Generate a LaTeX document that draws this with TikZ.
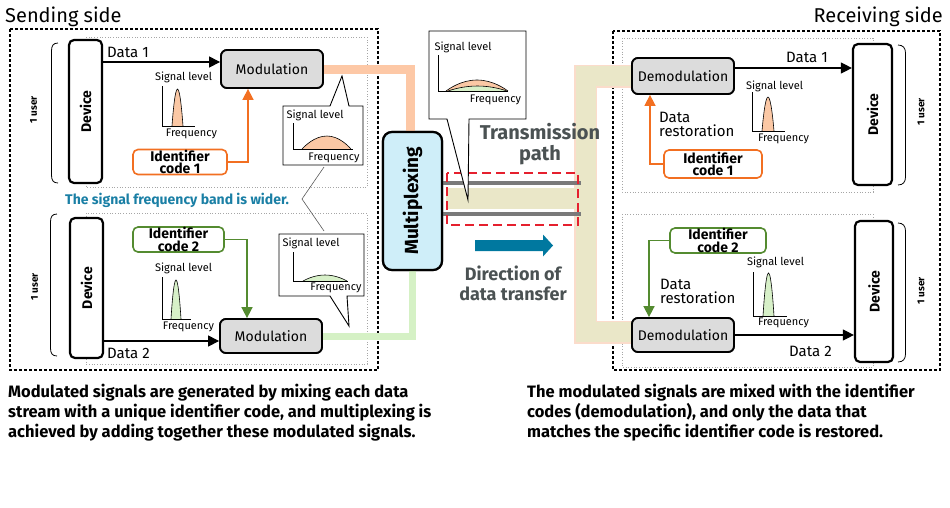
\documentclass[tikz,border=0pt]{standalone}
\usepackage{fontspec}
\setmainfont{Fira Sans}
\usetikzlibrary{arrows.meta}

\definecolor{codeorange}{HTML}{F26F21}
\definecolor{codegreen}{HTML}{548B30}
\definecolor{peachfill}{HTML}{FBC8A5}
\definecolor{greenfill}{HTML}{D7F0C8}
\definecolor{peachband}{HTML}{FDC8A6}
\definecolor{peachedge}{HTML}{FBDCCB}
\definecolor{greenband}{HTML}{D5F1C5}
\definecolor{khakiband}{HTML}{EAE7C8}
\definecolor{boxgray}{HTML}{DCDCDC}
\definecolor{muxblue}{HTML}{CFEEF9}
\definecolor{widerblue}{HTML}{1A7FA5}
\definecolor{arrowblue}{HTML}{00789F}
\definecolor{pathgray}{HTML}{4B5253}
\definecolor{pathred}{HTML}{E5202E}
\definecolor{wiregray}{HTML}{7A7A7A}

\tikzset{
	sidebox/.style={draw, line width=1.4pt, dash pattern=on 3pt off 2pt},
	userbox/.style={draw=gray!70, line width=0.7pt, dotted},
	devbox/.style={draw, fill=white, line width=2.2pt, rounded corners=5pt, minimum width=33pt, inner sep=0pt},
	devtxt/.style={rotate=90, font=\bfseries\fontsize{14}{14}\selectfont},
	muxtxt/.style={rotate=90, font=\bfseries\fontsize{19}{19}\selectfont},
	modbox/.style={draw, fill=boxgray, line width=1.8pt, rounded corners=6pt, minimum width=102pt, inner sep=0pt, font=\fontsize{14}{14}\selectfont},
	codebox/.style={draw, fill=white, line width=1.6pt, rounded corners=5pt, minimum width=94pt, minimum height=25pt, inner sep=0pt, align=center, font=\bfseries\fontsize{14}{12.5}\selectfont},
	datalbl/.style={font=\fontsize{15}{14}\selectfont, inner sep=0pt, align=left},
	dataarrow/.style={line width=1.1pt, -{Triangle[length=11pt,width=11pt]}},
	codearrow/.style={line width=1.6pt, -{Triangle[length=11pt,width=11pt]}},
	axisline/.style={line width=0.7pt},
	bellpeach/.style={fill=peachfill, draw, line width=0.6pt},
	bellgreen/.style={fill=greenfill, draw, line width=0.6pt},
	sigtxt/.style={font=\fontsize{11}{11}\selectfont, inner sep=0pt},
	usertxt/.style={rotate=90, font=\bfseries\fontsize{10}{10}\selectfont, inner sep=0pt},
	calloutbox/.style={draw, fill=white, line width=0.9pt, line join=miter},
	bracket/.style={line width=0.8pt},
	notetxt/.style={font=\bfseries\fontsize{16.5}{20}\selectfont, anchor=north west, align=left, inner sep=0pt},
}

\begin{document}
\begin{tikzpicture}[x=1pt, y=-1pt]

				\useasboundingbox (0,0) rectangle (950,507);

				\node [font=\fontsize{20}{20}\selectfont, anchor=base west, inner sep=0pt] (send) at (5,22) {Sending side};
				\node [font=\fontsize{20}{20}\selectfont, anchor=base east, inner sep=0pt] (recv) at (943,22) {Receiving side};

				\draw [sidebox] (10,29) rectangle (378,370);
				\draw [sidebox] (613,31) rectangle (940,370);
				\draw [userbox] (86,37) rectangle (367,187);
				\draw [userbox] (86,213) rectangle (367,364);
				\draw [userbox] (622,38) rectangle (873,192);
				\draw [userbox] (622,214) rectangle (873,367);

				\draw [bracket] (58,43) .. controls (53,43) and (51.5,46) .. (51.5,51) -- (51.5,175) .. controls (51.5,180) and (53,183) .. (58,183);
				\draw [bracket] (57,214) .. controls (52,214) and (50.5,217) .. (50.5,222) -- (50.5,348) .. controls (50.5,353) and (52,356) .. (57,356);
				\draw [bracket] (898,45) .. controls (903,45) and (905.5,48) .. (905.5,53) -- (905.5,177) .. controls (905.5,182) and (903,185) .. (898,185);
				\draw [bracket] (898,223) .. controls (903,223) and (905.5,226) .. (905.5,231) -- (905.5,354) .. controls (905.5,359) and (903,362) .. (898,362);

				\node [usertxt] (userA) at (33.5,110) {1 user};
				\node [usertxt] (userB) at (34.5,287) {1 user};
				\node [usertxt] (userC) at (921,112) {1 user};
				\node [usertxt] (userD) at (921,291) {1 user};

				\node [modbox, minimum height=38pt] (modA) at (272,69) {};
				\node [modbox, minimum height=34pt] (modB) at (271,336) {};
				\node [draw, fill=muxblue, line width=2.2pt, rounded corners=9pt, minimum width=59pt, minimum height=138pt] (mux) at (412.5,201) {};
				\node [modbox, minimum height=36pt] (demodA) at (683,76) {};
				\node [modbox, minimum height=34pt] (demodB) at (683,335) {};

				\coordinate (bandx) at (585.5,0);
				\coordinate (demodBin) at ([yshift=3pt]demodB.west);
				\draw [peachband, line width=9pt] (modA.east) -| ([xshift=-2.5pt]mux.north);
				\draw [greenband, line width=7pt] (modB.east) -| (mux.south);
				\draw [peachedge, line width=23pt] (demodA.west) -| (bandx |- demodBin) -- (demodBin);
				\draw [khakiband, line width=20pt] (demodA.west) -| (bandx |- demodBin) -- (demodBin);
				\fill [khakiband] (446,188) rectangle (590,209);
				\draw [wiregray, line width=3.5pt] (mux.east |- 0,183) -- (581,183);
				\draw [wiregray, line width=3.5pt] (mux.east |- 0,214) -- (581,214);
				\draw [pathred, line width=1.8pt, dash pattern=on 9pt off 5pt] (447,173) rectangle (578,225);

				\node [modbox, minimum height=38pt] at (modA) {Modulation};
				\node [modbox, minimum height=34pt] at (modB) {Modulation};
				\node [draw, fill=muxblue, line width=2.2pt, rounded corners=9pt, minimum width=59pt, minimum height=138pt, label={[muxtxt]center:Multiplexing}] at (mux) {};
				\node [modbox, minimum height=36pt] at (demodA) {Demodulation};
				\node [modbox, minimum height=34pt] at (demodB) {Demodulation};

				\node [devbox, minimum height=143pt, label={[devtxt]center:Device}] (devA) at (85.5,111.5) {};
				\node [devbox, minimum height=140pt, label={[devtxt]center:Device}] (devB) at (86.5,288) {};
				\node [devbox, minimum width=39pt, minimum height=141pt, label={[devtxt]center:Device}] (devC) at (872.5,114.5) {};
				\node [devbox, minimum width=38pt, minimum height=141pt, label={[devtxt]center:Device}] (devD) at (874,291.5) {};

				\node [codebox, draw=codeorange] (codeA) at (180,162) {Identifier\\code 1};
				\node [codebox, draw=codegreen, minimum width=91pt] (codeB) at (178.5,239.5) {Identifier\\code 2};
				\node [codebox, draw=codeorange, minimum width=98pt, minimum height=28pt] (codeC) at (713,164) {Identifier\\code 1};
				\node [codebox, draw=codegreen, minimum width=96pt] (codeD) at (718,240.5) {Identifier\\code 2};

				\coordinate (modAin) at ([yshift=7pt]modA.west);
				\coordinate (modBin) at ([yshift=-5pt]modB.west);
				\coordinate (demodAout) at ([yshift=8pt]demodA.east);
				\draw [dataarrow] (devA.east |- modAin) -- (modAin);
				\draw [dataarrow] (devB.east |- modBin) -- (modBin);
				\draw [dataarrow] (demodAout) -- (devC.west |- demodAout);
				\draw [dataarrow] (demodB.east) -- (devD.west |- demodB.east);
				\draw [codearrow, codeorange] (codeA.east) -| ([xshift=-24pt]modA.south);
				\draw [codearrow, codegreen] (codeB.east) -| ([xshift=-24pt]modB.north);
				\draw [codearrow, codeorange] (codeC.west) -| ([xshift=-33pt]demodA.south);
				\draw [codearrow, codegreen] (codeD.west) -| ([xshift=-34pt]demodB.north);

				\node [datalbl, anchor=west] (dataA) at (107,52) {Data 1};
				\node [datalbl, anchor=west] (dataB) at (107,353) {Data 2};
				\node [datalbl, anchor=west] (dataC) at (786,57) {Data 1};
				\node [datalbl, anchor=west] (dataD) at (789,351) {Data 2};
				\node [datalbl, anchor=west] (restA) at (659,124) {Data\\restoration};
				\node [datalbl, anchor=west] (restB) at (660,291) {Data\\restoration};

				\filldraw [bellpeach] (172,126) parabola bend (177.5,89) (183,126);
				\draw [axisline] (162,86) |- (195,126);
				\node [sigtxt] (levelA) at (183.5,77.5) {Signal level};
				\node [sigtxt] (freqA) at (191.5,134) {Frequency};

				\filldraw [bellgreen] (171,319) parabola bend (176,280) (181,319);
				\draw [axisline] (162,277) |- (191,319);
				\node [sigtxt] (levelB) at (183.5,268) {Signal level};
				\node [sigtxt] (freqB) at (188.5,327) {Frequency};

				\filldraw [bellpeach] (762,131) parabola bend (768,97) (774,131);
				\draw [axisline] (752,92) |- (785,131);
				\node [sigtxt] (levelC) at (774.5,86) {Signal level};
				\node [sigtxt] (freqC) at (783.5,139) {Frequency};

				\filldraw [bellgreen] (763,316) parabola bend (768.5,273) (774,316);
				\draw [axisline] (753,272) |- (787,316);
				\node [sigtxt] (levelD) at (775.5,262) {Signal level};
				\node [sigtxt] (freqD) at (783.5,323) {Frequency};

				\coordinate (wideA) at (324,167);
				\coordinate (wideV) at (302,199);
				\coordinate (wideB) at (324,231);
				\draw [gray!70!black, line width=0.6pt] (wideA) -- (wideV) -- (wideB);

				\draw [calloutbox] (283,106) -- (330,106) -- (342,76) -- (349,106) -- (363,106) -- (363,165) -- (283,165) -- cycle;
				\filldraw [bellpeach] (302,149) parabola bend (327,136) (351,149);
				\draw [axisline] (293,123) |- (353,149);
				\node [sigtxt] (levelE) at (315,115) {Signal level};
				\node [sigtxt] (freqE) at (334,158) {Frequency};

				\draw [calloutbox] (279,234) -- (364,234) -- (364,296) -- (347,296) -- (349,326) -- (330,296) -- (279,296) -- cycle;
				\filldraw [bellgreen] (303,281) parabola bend (325,275) (347,281);
				\draw [axisline] (293,252) |- (348,281);
				\node [sigtxt] (levelF) at (311,243) {Signal level};
				\node [sigtxt] (freqF) at (336,288) {Frequency};

				\draw [calloutbox] (429,31) -- (526,31) -- (526,119) -- (469,119) -- (468,200) -- (447,119) -- (429,119) -- cycle;
				\filldraw [bellpeach] (446,91) parabola bend (477,80) (508,91);
				\filldraw [bellgreen] (448,91) parabola bend (477.5,86) (507,91);
				\draw [axisline] (438,55) |- (508,91);
				\node [sigtxt] (levelG) at (463,47) {Signal level};
				\node [sigtxt] (freqG) at (495.5,100) {Frequency};

				\node [font=\bfseries\fontsize{14}{14}\selectfont, text=widerblue, anchor=west, inner sep=0pt] (wider) at (65,200) {The signal frequency band is wider.};
				\node [font=\bfseries\fontsize{20}{21}\selectfont, text=pathgray, align=center, inner sep=0pt] (trans) at (540,144) {Transmission\\path};
				\fill [arrowblue] (475,240) -- (543,240) -- (543,234.5) -- (553,245.5) -- (543,256.5) -- (543,251) -- (475,251) -- cycle;
				\node [font=\bfseries\fontsize{18}{20}\selectfont, text=pathgray, align=center, inner sep=0pt] (direction) at (513,283) {Direction of\\data transfer};

				\node [notetxt] (sendnote) at (8,384) {Modulated signals are generated by mixing each data\\stream with a unique identifier code, and multiplexing is\\achieved by adding together these modulated signals.};
				\node [notetxt] (recvnote) at (527,384) {The modulated signals are mixed with the identifier\\codes (demodulation), and only the data that\\matches the specific identifier code is restored.};
		\end{tikzpicture}
\end{document}
